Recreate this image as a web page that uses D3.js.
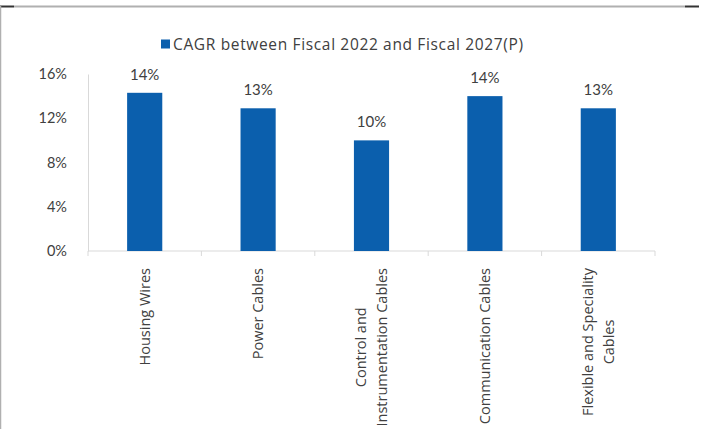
<!DOCTYPE html>
<html>
<head>
<meta charset="utf-8">
<script src="https://cdn.jsdelivr.net/npm/d3@7"></script>
<style>
    body { margin: 0; background: #fff; }
    svg { display: block; }
</style>
</head>
<body>
<svg id="chart"></svg>
<script>
// данные
const categories = [
    "Housing Wires",
    "Power Cables",
    "Control and\nInstrumentation Cables",
    "Communication Cables",
    "Flexible and Speciality\nCables"
];
const cagr = [14.3, 12.9, 10.0, 14.0, 12.9];
const valueLabels = ["14%", "13%", "10%", "14%", "13%"];
const yTicks = [0, 4, 8, 12, 16];
const seriesName = "CAGR between Fiscal 2022 and Fiscal 2027(P)";

const width = 704;
const height = 429;
const plotLeft = 88, plotRight = 655, plotTop = 74, plotBottom = 251;
const barColor = "#0b5fad";
const textColor = "#404040";

let svg = d3.select("#chart")
    .attr("width", width)
    .attr("height", height);

// рамка
svg.append("line").attr("x1", 14).attr("x2", 685).attr("y1", 6.5).attr("y2", 6.5)
    .attr("stroke", "#b0b0b0").attr("stroke-width", 2);
svg.append("line").attr("x1", 0).attr("x2", 14).attr("y1", 6.5).attr("y2", 6.5)
    .attr("stroke", "#333").attr("stroke-width", 2);
svg.append("line").attr("x1", 685).attr("x2", 699).attr("y1", 6.5).attr("y2", 6.5)
    .attr("stroke", "#333").attr("stroke-width", 2);
svg.append("line").attr("x1", 0.5).attr("x2", 0.5).attr("y1", 6).attr("y2", height)
    .attr("stroke", "#b0b0b0").attr("stroke-width", 1.5);

let scX = d3.scaleBand()
    .domain(categories)
    .range([plotLeft, plotRight])
    .paddingInner(0.69)
    .paddingOuter(0.345);

let scY = d3.scaleLinear()
    .domain([0, 16])
    .range([plotBottom, plotTop]);

// ось Y
let axisY = d3.axisLeft(scY)
    .tickValues(yTicks)
    .tickSize(0)
    .tickPadding(21)
    .tickFormat(d => d + "%");

let gY = svg.append("g")
    .attr("transform", `translate(${plotLeft}, 0)`)
    .call(axisY);
gY.select(".domain").attr("stroke", "#d9d9d9");
gY.selectAll("text")
    .attr("fill", textColor)
    .style("font-family", "Lato")
    .style("font-size", "14.5px");

// ось X
let gX = svg.append("g")
    .attr("transform", `translate(0, ${plotBottom})`);
gX.append("line")
    .attr("x1", plotLeft).attr("x2", plotRight)
    .attr("stroke", "#d9d9d9");
let bounds = categories.map(c => scX(c) - scX.step() * 0.345).concat([plotRight]);
gX.selectAll(".tick")
    .data(bounds)
    .enter()
    .append("line")
    .attr("x1", d => d).attr("x2", d => d)
    .attr("y1", 0).attr("y2", 5)
    .attr("stroke", "#d9d9d9");

// столбцы
svg.selectAll(".bar")
    .data(cagr)
    .enter()
    .append("rect")
    .attr("class", "bar")
    .attr("x", (d, i) => scX(categories[i]))
    .attr("y", d => scY(d))
    .attr("width", scX.bandwidth())
    .attr("height", d => plotBottom - scY(d))
    .attr("fill", barColor);

// подписи значений
svg.selectAll(".val")
    .data(cagr)
    .enter()
    .append("text")
    .attr("x", (d, i) => scX(categories[i]) + scX.bandwidth() / 2)
    .attr("y", d => scY(d) - 13)
    .attr("text-anchor", "middle")
    .attr("fill", textColor)
    .style("font-family", "Lato")
    .style("font-size", "15px")
    .text((d, i) => valueLabels[i]);

// подписи категорий
categories.forEach((c, i) => {
    let lines = c.split("\n");
    let cx = scX(c) + scX.bandwidth() / 2;
    let g = svg.append("g");
    let texts = lines.map((ln, j) => g.append("text")
        .attr("text-anchor", "middle")
        .attr("fill", textColor)
        .style("font-family", "Open Sans")
        .style("font-size", "14.5px")
        .text(ln));
    let maxLen = d3.max(texts, t => t.node().getComputedTextLength());
    let cy = 268 + maxLen / 2;
    texts.forEach((t, j) => {
        let x = cx + (j - (lines.length - 1) / 2) * 21 + 5;
        t.attr("transform", `translate(${x}, ${cy}) rotate(-90)`);
    });
});

// легенда
let leg = svg.append("g");
leg.append("rect")
    .attr("x", 161).attr("y", 39.5)
    .attr("width", 9).attr("height", 9)
    .attr("fill", barColor);
leg.append("text")
    .attr("x", 173).attr("y", 49.5)
    .attr("fill", textColor)
    .attr("textLength", 350)
    .attr("lengthAdjust", "spacing")
    .style("font-family", "Open Sans")
    .style("font-size", "15.5px")
    .text(seriesName);
</script>
</body>
</html>
